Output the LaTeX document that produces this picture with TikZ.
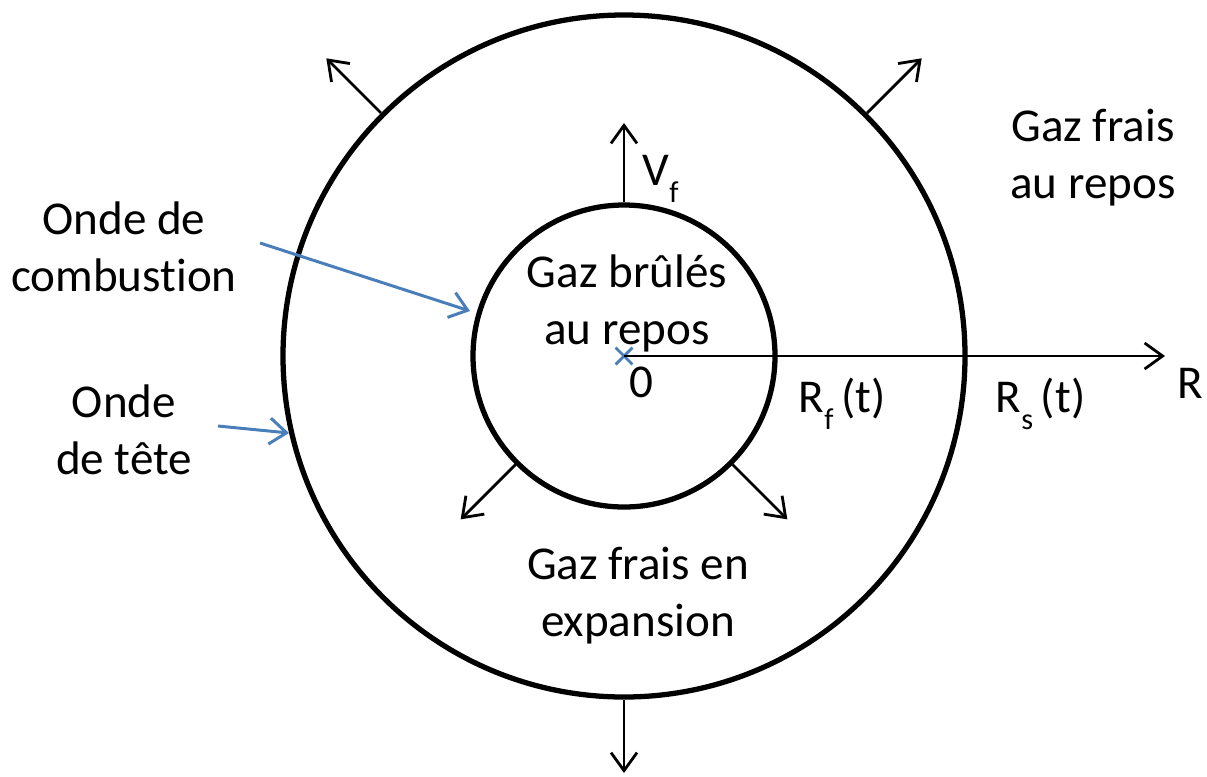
\documentclass[tikz,border=0pt]{standalone}
\usepackage{fontspec}
\setmainfont{Carlito}[Ligatures={NoCommon,NoRare}]
\usetikzlibrary{arrows.meta, calc, shapes.misc}
\definecolor{WaveBlue}{HTML}{4A7EBB}
\newcommand{\idx}[1]{\raisebox{-0.38em}{\fontsize{8.6pt}{8.6pt}\selectfont #1}}
\tikzset{
  front/.style={circle, draw, line width=1.5pt, inner sep=0pt},
  lbl/.style={align=center, inner sep=0pt, font=\fontsize{13.4pt}{16.2pt}\selectfont},
  flow/.style={-{Straight Barb[length=1.8mm, width=2.6mm]}, line width=0.8pt},
  point/.style={-{Straight Barb[length=1.7mm, width=2.6mm]}, line width=0.85pt, draw=WaveBlue},
}

\begin{document}
\begin{tikzpicture}
  \useasboundingbox (0,0) rectangle (12.07,-7.76);
  \coordinate (o) at (6.24,-3.56);
  \node[front, minimum size=6.82cm] (shock) at (o) {};
  \node[front, minimum size=3.02cm] (flame) at (o) {};
  \node[cross out, draw=WaveBlue, line width=0.8pt, minimum size=1.4mm, inner sep=0pt] (origin) at (o) {};

  \coordinate (nw) at ($(o)+(135:4.21)$);
  \coordinate (ne) at ($(o)+(45:4.21)$);
  \coordinate (s) at ($(o)+(-90:4.17)$);
  \coordinate (vtop) at ($(o)+(90:2.33)$);
  \coordinate (sw) at ($(o)+(225:2.31)$);
  \coordinate (se) at ($(o)+(-45:2.31)$);
  \coordinate (rend) at (11.65,-3.56);
  \draw[flow] (shock.135) -- (nw);
  \draw[flow] (shock.45) -- (ne);
  \draw[flow] (shock.south) -- (s);
  \draw[flow] (flame.north) -- (vtop);
  \draw[flow] (flame.225) -- (sw);
  \draw[flow] (flame.-45) -- (se);
  \draw[flow] (o) -- (rend);

  \node[lbl] (comb) at (1.24,-2.47) {Onde de\\combustion};
  \node[lbl] (head) at (1.24,-4.30) {Onde\\de tête};
  \node[lbl] (fresh) at (10.93,-1.58) {Gaz frais\\au repos};
  \node[lbl] (burnt) at (6.27,-3.03) {Gaz brûlés\\au repos};
  \node[lbl] (expand) at (6.38,-5.96) {Gaz frais en\\expansion};
  \node[lbl, anchor=base west] (vf) at (6.42,-1.85) {V\idx{f}};
  \node[lbl, anchor=base] (zero) at (6.41,-3.97) {0};
  \node[lbl, anchor=base west] (rf) at (7.98,-4.12) {R\idx{f}\,(t)};
  \node[lbl, anchor=base west] (rs) at (9.95,-4.12) {R\idx{s}\,(t)};
  \node[lbl, anchor=base west] (rlab) at (11.77,-3.98) {R};

  \coordinate (c1) at (2.60,-2.43);
  \coordinate (c2) at (4.70,-3.11);
  \coordinate (h1) at (2.18,-4.26);
  \coordinate (h2) at (2.89,-4.33);
  \draw[point] (c1) -- (c2);
  \draw[point] (h1) -- (h2);
\end{tikzpicture}
\end{document}
